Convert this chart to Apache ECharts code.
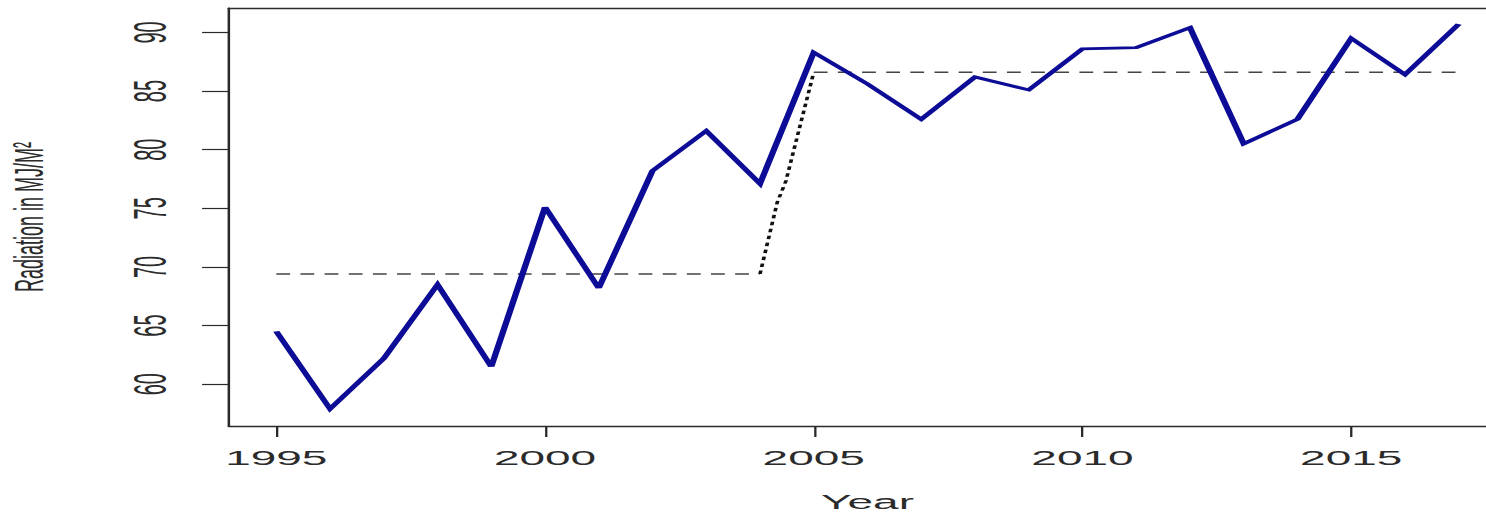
<!DOCTYPE html>
<html>
<head>
<meta charset="utf-8">
<script src="https://cdn.jsdelivr.net/npm/echarts@6/dist/echarts.min.js"></script>
<style>
  html, body { margin: 0; padding: 0; background: #fff; overflow: hidden; width: 1486px; height: 516px; }
  #clip { position: absolute; left: 0; top: 0; width: 1486px; height: 516px; overflow: hidden; }
  #wrap { position: absolute; left: 0; top: 0; height: 516px; transform-origin: 0 0; }
  #edge { position: absolute; left: 1474px; top: 14px; width: 12px; height: 404px; background: #fff; z-index: 10; }
</style>
</head>
<body>
<div id="clip"><div id="wrap"></div></div>
<div id="edge"></div>
<script>
// Annual radiation series
const years = [1995, 1996, 1997, 1998, 1999, 2000, 2001, 2002, 2003, 2004, 2005, 2006,
               2007, 2008, 2009, 2010, 2011, 2012, 2013, 2014, 2015, 2016, 2017];
const radiation = [64.5, 57.9, 62.2, 68.5, 61.5, 75.1, 68.2, 78.2, 81.6, 77.1, 88.3, 85.6,
                   82.6, 86.2, 85.1, 88.6, 88.7, 90.4, 80.5, 82.6, 89.5, 86.4, 90.7];

// Segment means before and after the shift
const meanBeforeSpan = [1995, 2004];
const meanBefore = 69.4;
const meanAfterSpan = [2005, 2017];
const meanAfter = 86.6;

// Transition between the two segment means
const shiftYears = [2004, 2004.32, 2004.48, 2005];
const shiftValues = [69.4, 75.5, 77.3, 86.6];

// Axis ticks
const xTicks = [1995, 2000, 2005, 2010, 2015];
const yTicks = [60, 65, 70, 75, 80, 85, 90];

// The figure is drawn narrow and stretched horizontally; the plot box
// runs past the right edge of the page, which clips it.
const STRETCH = 2.3;
const FULL = 1700;              // stretched width of the drawing surface
const W = FULL / STRETCH;
const wrap = document.getElementById('wrap');
wrap.style.width = W + 'px';
wrap.style.transform = 'scaleX(' + STRETCH + ')';

const chart = echarts.init(wrap, null, { renderer: 'svg', width: W, height: 516 });

const textColor = '#2b2b2b';
const boxColor = '#2a2a2a';
const font = 'Liberation Sans, Arial, Helvetica, sans-serif';
const xRange = { min: 1994.12, max: 2017.88 };

chart.setOption({
  animation: false,
  backgroundColor: '#ffffff',
  grid: {
    left: 229 / STRETCH,
    right: (FULL - 1506) / STRETCH,
    top: 8,
    bottom: 90,
    outerBoundsMode: 'none',
    containLabel: false,
    show: false
  },
  xAxis: [
    {
      type: 'value',
      position: 'bottom',
      min: xRange.min,
      max: xRange.max,
      name: 'Year',
      nameLocation: 'middle',
      nameGap: 66,
      nameTextStyle: { color: textColor, fontSize: 20, fontFamily: font },
      axisLine: { show: true, onZero: false, lineStyle: { color: boxColor, width: 1.4 } },
      splitLine: { show: false },
      axisTick: {
        show: true,
        length: 11,
        customValues: xTicks,
        lineStyle: { color: boxColor, width: 1 }
      },
      axisLabel: {
        customValues: xTicks,
        margin: 22,
        color: textColor,
        fontSize: 20,
        fontFamily: font,
        formatter: v => String(v)
      }
    },
    {
      // top edge of the plot box
      type: 'value',
      position: 'top',
      min: xRange.min,
      max: xRange.max,
      axisLine: { show: true, onZero: false, lineStyle: { color: boxColor, width: 1.4 } },
      axisTick: { show: false },
      axisLabel: { show: false },
      splitLine: { show: false }
    }
  ],
  yAxis: {
    type: 'value',
    min: 56.44,
    max: 92.08,
    name: 'Radiation in MJ/M²',
    nameLocation: 'middle',
    nameRotate: 90,
    nameGap: 78,
    nameTextStyle: { color: textColor, fontSize: 18, fontFamily: font },
    axisLine: { show: true, onZero: false, lineStyle: { color: boxColor, width: 1.1 } },
    splitLine: { show: false },
    axisTick: {
      show: true,
      length: 11.7,
      customValues: yTicks,
      lineStyle: { color: boxColor, width: 1.2 }
    },
    axisLabel: {
      customValues: yTicks,
      rotate: 90,
      margin: 24,
      color: textColor,
      fontSize: 20,
      fontFamily: font,
      formatter: v => String(v)
    }
  },
  series: [
    {
      name: 'mean before',
      type: 'line',
      symbol: 'none',
      data: meanBeforeSpan.map(x => [x, meanBefore]),
      lineStyle: { color: '#444444', width: 1.6, type: [6, 4.5] },
      z: 2
    },
    {
      name: 'shift',
      type: 'line',
      symbol: 'none',
      data: shiftYears.map((x, i) => [x, shiftValues[i]]),
      lineStyle: { color: '#111111', width: 1.6, type: [3.5, 3.5] },
      z: 2
    },
    {
      name: 'mean after',
      type: 'line',
      symbol: 'none',
      data: meanAfterSpan.map(x => [x, meanAfter]),
      lineStyle: { color: '#444444', width: 1.6, type: [6, 4.5] },
      z: 2
    },
    {
      name: 'radiation',
      type: 'line',
      symbol: 'none',
      data: years.map((x, i) => [x, radiation[i]]),
      lineStyle: { color: '#0c0c96', width: 2.8, join: 'miter', cap: 'butt' },
      z: 3
    }
  ]
});
</script>
</body>
</html>
